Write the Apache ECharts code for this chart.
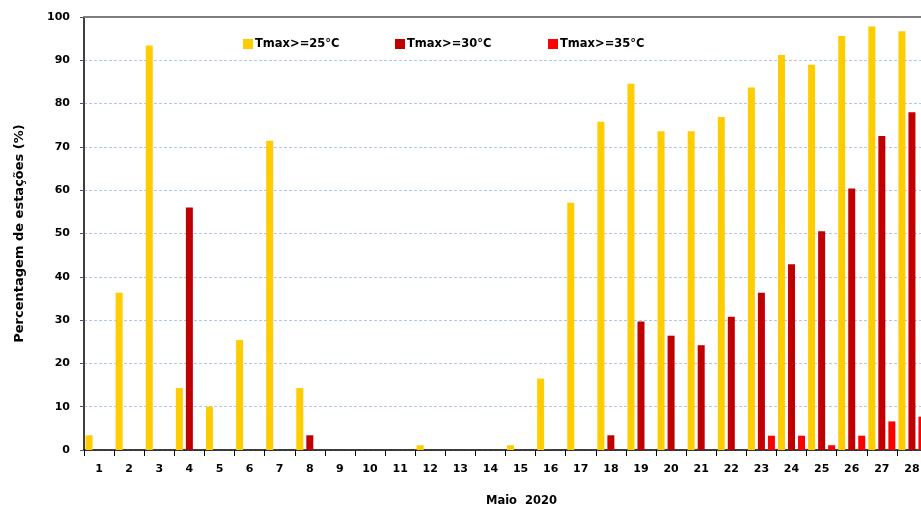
<!DOCTYPE html>
<html><head><meta charset="utf-8">
<script src="https://cdn.jsdelivr.net/npm/echarts@6/dist/echarts.min.js"></script>
<style>html,body{margin:0;padding:0;overflow:hidden;background:#fff}#c{width:921px;height:507px}</style>
</head><body><div id="c"></div>
<script>
const days = ['1','2','3','4','5','6','7','8','9','10','11','12','13','14','15','16','17','18','19','20','21','22','23','24','25','26','27','28'];
const t25 = [3.4,36.3,93.4,14.3,10.0,25.4,71.4,14.3,0,0,0,1.1,0,0,1.1,16.5,57.1,75.8,84.6,73.6,73.6,76.9,83.7,91.2,89.0,95.6,97.8,96.7];
const t30 = [0,0,0,56.0,0,0,0,3.4,0,0,0,0,0,0,0,0,0,3.4,29.7,26.4,24.2,30.8,36.3,42.9,50.5,60.4,72.5,78.0];
const t35 = [0,0,0,0,0,0,0,0,0,0,0,0,0,0,0,0,0,0,0,0,0,0,3.3,3.3,1.1,3.3,6.6,7.7];
const yTicks = {min:0, max:100, interval:10};
const names = ['Tmax>=25°C','Tmax>=30°C','Tmax>=35°C'];
const colors = ['#FFCC00','#C00000','#FF0000'];
const font = 'DejaVu Sans';
const chart = echarts.init(document.getElementById('c'));
const lg = (i, left) => ({data:[names[i]], left:left, top:38, padding:0, itemWidth:10, itemHeight:10, icon:'rect', itemGap:5,
  textStyle:{fontFamily:font, fontWeight:'bold', fontSize:11.5, color:'#000', padding:[0,0,0,-3]}});
chart.setOption({
  animation:false,
  color: colors,
  legend:[lg(0,243), lg(1,395), lg(2,548)],
  grid:{left:84, right:-6, top:17, bottom:57, containLabel:false, outerBoundsMode:'none'},
  xAxis:[{type:'category', data:days, boundaryGap:true,
    name:'Maio  2020', nameLocation:'middle', nameGap:45,
    nameTextStyle:{fontFamily:font, fontWeight:'bold', fontSize:11.5, color:'#000', padding:[0,0,0,32]},
    axisLine:{lineStyle:{color:'#000', width:1.5}},
    axisTick:{show:true, alignWithLabel:false, length:6, lineStyle:{color:'#000'}},
    axisLabel:{fontFamily:font, fontWeight:'bold', fontSize:11, color:'#000', margin:14, interval:0},
    splitLine:{show:false}},
   {type:'category', data:days, position:'top', axisLine:{show:true, lineStyle:{color:'#7f7f7f', width:2}},
    axisTick:{show:false}, axisLabel:{show:false}, splitLine:{show:false}}],
  yAxis:{type:'value', min:yTicks.min, max:yTicks.max, interval:yTicks.interval,
    name:'Percentagem de estações (%)', nameLocation:'middle', nameGap:58,
    nameTextStyle:{fontFamily:font, fontWeight:'bold', fontSize:13, color:'#000'},
    axisLine:{show:true, lineStyle:{color:'#000', width:1.5}},
    axisTick:{show:true, length:4, lineStyle:{color:'#555'}},
    axisLabel:{fontFamily:font, fontWeight:'bold', fontSize:11, color:'#000', margin:14},
    splitLine:{show:true, lineStyle:{color:'#b3c6ee', type:[3,2], width:1}}},
  series:[
    {name:names[0], type:'bar', data:t25, barWidth:7, barGap:'43%', itemStyle:{color:colors[0]}},
    {name:names[1], type:'bar', data:t30, barWidth:7, barGap:'43%', itemStyle:{color:colors[1]}},
    {name:names[2], type:'bar', data:t35, barWidth:7, barGap:'43%', itemStyle:{color:colors[2]}}
  ]
});
</script></body></html>
